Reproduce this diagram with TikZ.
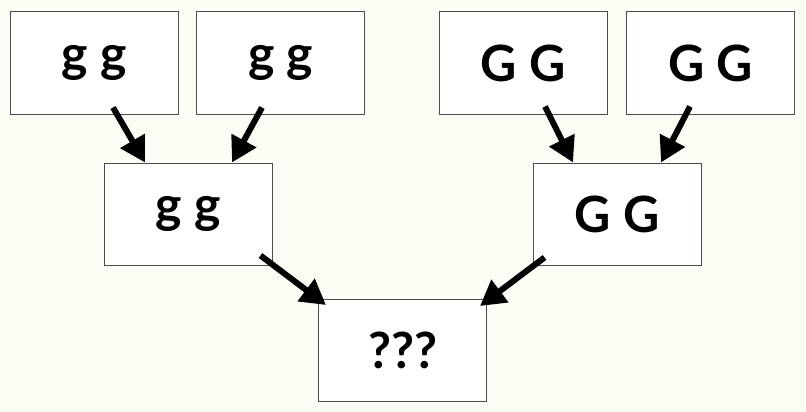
\documentclass[tikz,border=0pt]{standalone}
\usepackage{fontspec}
\setsansfont{Lato}
\usetikzlibrary{arrows.meta}
\definecolor{paper}{RGB}{250,253,243}
\begin{document}
\begin{tikzpicture}[x=1pt,y=-1pt,
squarednode/.style={rectangle, draw=black!70, fill=white, line width=1pt, minimum width=168pt, minimum height=102pt, inner sep=0pt, font=\sffamily\bfseries\fontsize{50}{60}\selectfont},
thickarrow/.style={-{Triangle[length=25pt,width=27pt]}, line width=6pt, black},
]
\fill[paper] (0,0) rectangle (806,412);
\useasboundingbox (0,0) rectangle (806,412);
%Nodes
\node[squarednode] (topleftone) at (94,63) {g g};
\node[squarednode] (toplefttwo) at (280.5,63) {g g};
\node[squarednode] (toprightone) at (523,63) {G G};
\node[squarednode] (toprighttwo) at (710.5,63) {G G};
\node[squarednode] (leftchild) at (188,214) {g g};
\node[squarednode] (rightchild) at (617,214) {G G};
\node[squarednode] (offspring) at (402.5,350.5) {???};

%Lines
\draw[thickarrow] ([xshift=19pt,yshift=7pt]topleftone.south) -- ([xshift=-43pt]leftchild.north);
\draw[thickarrow] ([xshift=-18.5pt,yshift=7pt]toplefttwo.south) -- ([xshift=44pt]leftchild.north);
\draw[thickarrow] ([xshift=22pt,yshift=8pt]toprightone.south) -- ([xshift=-44pt]rightchild.north);
\draw[thickarrow] ([xshift=-20.5pt,yshift=8pt]toprighttwo.south) -- ([xshift=44pt]rightchild.north);
\draw[thickarrow] ([xshift=-12pt,yshift=10pt]leftchild.south east) -- ([xshift=8pt,yshift=-6pt]offspring.north west);
\draw[thickarrow] ([xshift=12pt,yshift=8pt]rightchild.south west) -- ([xshift=-7pt,yshift=-7pt]offspring.north east);
\end{tikzpicture}
\end{document}
